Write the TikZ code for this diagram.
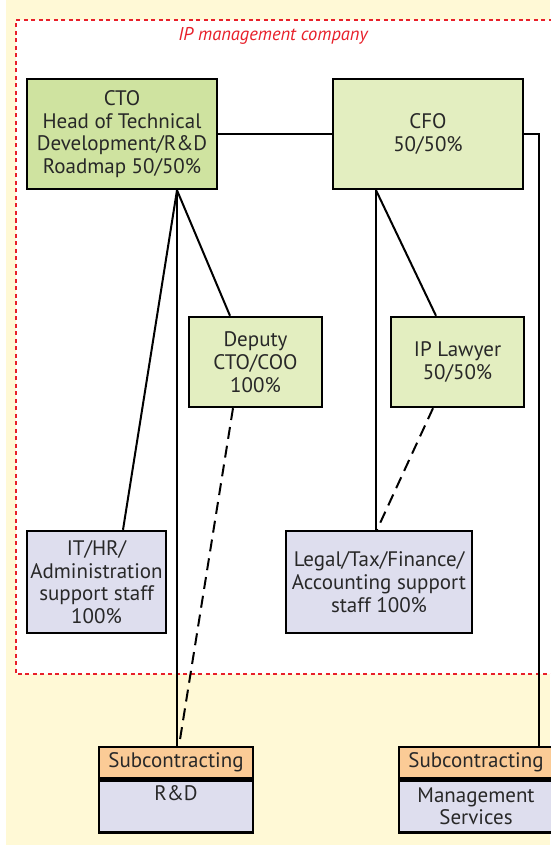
\documentclass[tikz,border=0pt]{standalone}
\usepackage{fontspec}
\setmainfont{PT Sans}
\usetikzlibrary{calc}
\definecolor{cream}{RGB}{255,249,214}
\definecolor{ctogreen}{RGB}{207,227,160}
\definecolor{lightgreen}{RGB}{227,238,192}
\definecolor{lavender}{RGB}{222,222,238}
\definecolor{peach}{RGB}{251,203,150}
\definecolor{redline}{RGB}{232,32,42}
\definecolor{txt}{RGB}{40,40,40}
\tikzset{
  box/.style={draw=black, line width=2.4pt, inner sep=0pt, align=center, text=txt,
    font=\fontsize{21}{22.7}\selectfont},
  link/.style={line width=2pt, draw=black},
  dlink/.style={line width=2pt, draw=black, dash pattern=on 12pt off 7pt},
}
\begin{document}
\begin{tikzpicture}[x=1pt,y=-1pt]
\useasboundingbox (0,0) rectangle (550,845);
\fill[white] (0,0) rectangle (550,845);
\fill[cream] (6,0) rectangle (550,845);
\fill[white] (16,20) rectangle (560,674);
\draw[redline, line width=1.5pt, dash pattern=on 4pt off 3.5pt] (560,20) -- (16,20) -- (16,674) -- (560,674);
\node[text=redline, font=\fontsize{18.5}{20}\selectfont\itshape] (lbl) at (273,36) {IP management company};

\node[box, fill=ctogreen, minimum width=190pt, minimum height=110pt] (cto) at (122,134)
  {CTO\\Head of Technical\\Development/R\&D\\Roadmap 50/50\%};
\node[box, fill=lightgreen, minimum width=190pt, minimum height=110pt] (cfo) at (428,134)
  {CFO\\50/50\%};
\node[box, fill=lightgreen, minimum width=133pt, minimum height=90pt] (dep) at (255.5,362)
  {Deputy\\CTO/COO\\100\%};
\node[box, fill=lightgreen, minimum width=133pt, minimum height=90pt] (ipl) at (457.5,362)
  {IP Lawyer\\50/50\%};
\node[box, fill=lavender, minimum width=139pt, minimum height=102pt] (ithr) at (96.5,582)
  {IT/HR/\\Administration\\support staff\\100\%};
\node[box, fill=lavender, minimum width=186pt, minimum height=102pt] (legal) at (379,582)
  {Legal/Tax/Finance/\\Accounting support\\staff 100\%};

\node[box, fill=peach, minimum width=154pt, minimum height=31pt] (subrd) at (176,762.5) {Subcontracting};
\node[box, fill=lavender, minimum width=154pt, minimum height=52pt, anchor=north, text depth=26pt] (rd) at (subrd.south) {R\&D};
\node[box, fill=peach, minimum width=154pt, minimum height=31pt] (subms) at (476,762.5) {Subcontracting};
\node[box, fill=lavender, minimum width=154pt, minimum height=52pt, anchor=north] (ms) at (subms.south) {Management\\Services};

\coordinate (ctoB) at ([xshift=55pt]cto.south);
\coordinate (cfoB) at ([xshift=-52pt]cfo.south);
\coordinate (cfoR) at ([xshift=15pt]cfo.east);

\draw[link] (cto.east) -- (cfo.west);
\draw[link] (cfo.east) -- (cfoR) -- (cfoR |- subms.north);
\draw[link] (ctoB) -- ([xshift=26.5pt]ithr.north);
\draw[link] (ctoB) -- ([xshift=-25.5pt]dep.north);
\draw[link] (ctoB) -- (ctoB |- subrd.north);
\draw[dlink] ([xshift=-22.5pt]dep.south) -- ([xshift=3pt]subrd.north);
\draw[link] (cfoB) -- (cfoB |- legal.north);
\draw[link] (cfoB) -- ([xshift=-21.5pt]ipl.north);
\draw[dlink] ([xshift=-24.5pt]ipl.south) -- ([xshift=-2pt]legal.north);
\end{tikzpicture}
\end{document}
